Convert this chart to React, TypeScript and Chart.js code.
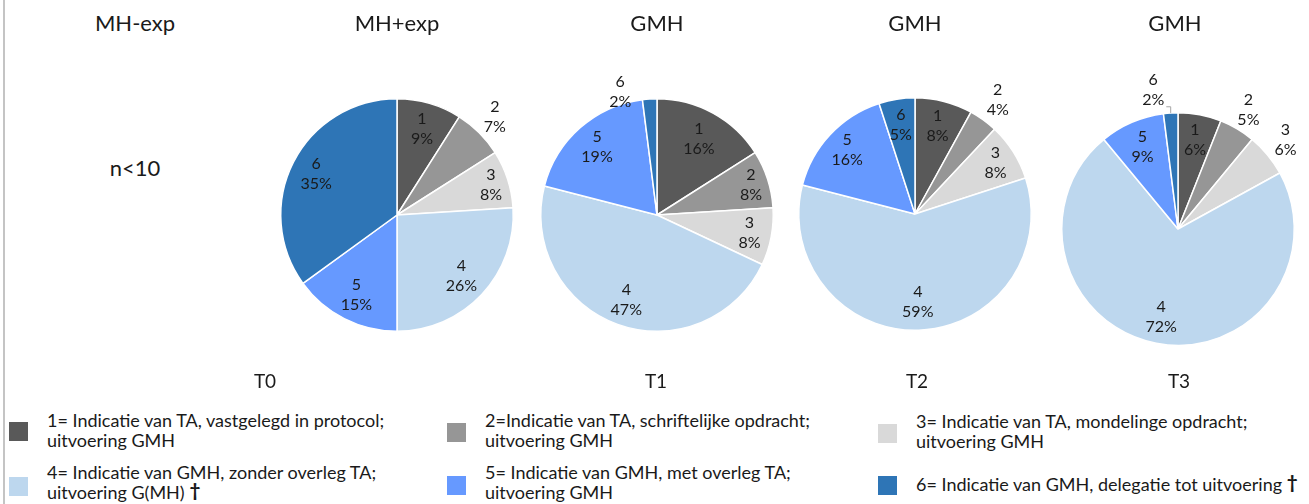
import React, { useEffect, useRef } from "react";
import { Chart, registerables } from "chart.js";

Chart.register(...registerables);

// ---------- data ----------
const CATEGORIES = ["1", "2", "3", "4", "5", "6"];
const T0_VALUES = [9, 7, 8, 26, 15, 35];
const T1_VALUES = [16, 8, 8, 47, 19, 2];
const T2_VALUES = [8, 4, 8, 59, 16, 5];
const T3_VALUES = [6, 5, 6, 72, 9, 2];
const PERIOD_LABELS = ["T0", "T1", "T2", "T3"];
const GROUP_LABELS = ["MH+exp", "GMH", "GMH", "GMH"];
const ROW_LABEL = "MH-exp";
const N_LABEL = "n<10";
const LEGEND_LABELS = [
  ["1= Indicatie van TA, vastgelegd in protocol;", "uitvoering GMH"],
  ["2=Indicatie van TA, schriftelijke opdracht;", "uitvoering GMH"],
  ["3= Indicatie van TA, mondelinge opdracht;", "uitvoering GMH"],
  ["4= Indicatie van GMH, zonder overleg TA;", "uitvoering G(MH)"],
  ["5= Indicatie van GMH, met overleg TA;", "uitvoering GMH"],
  ["6= Indicatie van GMH, delegatie tot uitvoering"],
];
const LEGEND_DAGGER = [false, false, false, true, false, true];

// ---------- styles / layout ----------
const COLORS = ["#595959", "#969696", "#D9D9D9", "#BDD7EE", "#6699FF", "#2E75B6"];
const FONT = "Lato, 'Open Sans', sans-serif";
const TEXT_COLOR = "#1a1a1a";
const PIE_CENTERS = [
  { cx: 397, cy: 215 },
  { cx: 657, cy: 215 },
  { cx: 915, cy: 214 },
  { cx: 1178, cy: 229 },
];
const CANVAS_HALF = 180;
const PAD = 63;

type Placement = { r: number; dx?: number; dy?: number; leader?: boolean };
const LABEL_PLACEMENT: Placement[][] = [
  [{ r: 0.77 }, { r: 1.19 }, { r: 0.85 }, { r: 0.76 }, { r: 0.77 }, { r: 0.78 }],
  [{ r: 0.75 }, { r: 0.85 }, { r: 0.81 }, { r: 0.78 }, { r: 0.78 }, { r: 1.2, dx: -28, dy: 16 }],
  [{ r: 0.78 }, { r: 1.21 }, { r: 0.82 }, { r: 0.76 }, { r: 0.8 }, { r: 0.78 }],
  [{ r: 0.78 }, { r: 1.19 }, { r: 1.2 }, { r: 0.77 }, { r: 0.77 }, { r: 1.2, dx: -16, dy: 0, leader: true }],
];
const SERIES = [T0_VALUES, T1_VALUES, T2_VALUES, T3_VALUES];

function PieChart({ values, cx, cy, placements }: { values: number[]; cx: number; cy: number; placements: Placement[] }) {
  const ref = useRef<HTMLCanvasElement>(null);
  useEffect(() => {
    if (!ref.current) return;
    const labelPlugin = {
      id: "sliceLabels",
      afterDatasetsDraw(chart: any) {
        const ctx = chart.ctx as CanvasRenderingContext2D;
        const meta = chart.getDatasetMeta(0);
        const total = values.reduce((a, b) => a + b, 0);
        ctx.save();
        ctx.font = `16px ${FONT}`;
        ctx.fillStyle = TEXT_COLOR;
        ctx.textAlign = "center";
        ctx.textBaseline = "middle";
        meta.data.forEach((arc: any, i: number) => {
          const { x, y, startAngle, endAngle, outerRadius } = arc.getProps(
            ["x", "y", "startAngle", "endAngle", "outerRadius"],
            true
          );
          const mid = (startAngle + endAngle) / 2;
          const p = placements[i];
          const lx = x + Math.cos(mid) * outerRadius * p.r + (p.dx || 0);
          const ly = y + Math.sin(mid) * outerRadius * p.r + (p.dy || 0);
          const pct = Math.round((values[i] / total) * 100) + "%";
          ctx.fillText(CATEGORIES[i], lx, ly - 10);
          ctx.fillText(pct, lx, ly + 10);
          if (p.leader) {
            const w = ctx.measureText(pct).width;
            const ax = x + Math.cos(mid) * outerRadius;
            const ay = y + Math.sin(mid) * outerRadius;
            const sx = lx + w / 2 + 2;
            const sy = ly + 17;
            ctx.strokeStyle = "#a6a6a6";
            ctx.lineWidth = 1;
            ctx.beginPath();
            ctx.moveTo(sx, sy);
            ctx.lineTo(ax, sy);
            ctx.lineTo(ax, ay);
            ctx.stroke();
          }
        });
        ctx.restore();
      },
    };
    const chart = new Chart(ref.current, {
      type: "pie",
      data: {
        labels: CATEGORIES,
        datasets: [
          {
            data: values,
            backgroundColor: COLORS,
            borderColor: "#ffffff",
            borderWidth: 1.5,
            hoverOffset: 0,
          },
        ],
      },
      options: {
        animation: false,
        responsive: false,
        events: [],
        layout: { padding: PAD },
        plugins: { legend: { display: false }, tooltip: { enabled: false } },
      },
      plugins: [labelPlugin],
    });
    return () => chart.destroy();
  }, []);
  return (
    <canvas
      ref={ref}
      width={CANVAS_HALF * 2}
      height={CANVAS_HALF * 2}
      style={{
        position: "absolute",
        left: cx - CANVAS_HALF,
        top: cy - CANVAS_HALF,
        width: CANVAS_HALF * 2,
        height: CANVAS_HALF * 2,
      }}
    />
  );
}

function Txt({ x, baseline, size, children, align = "center" }: any) {
  const lh = size * 1.2;
  return (
    <div
      style={{
        position: "absolute",
        left: x,
        top: baseline - 0.987 * size,
        transform: align === "center" ? "translateX(-50%)" : undefined,
        fontSize: size,
        lineHeight: `${lh}px`,
        fontFamily: FONT,
        color: TEXT_COLOR,
        whiteSpace: "nowrap",
      }}
    >
      {children}
    </div>
  );
}

const LEGEND_POS = [
  { sx: 9, tx: 47, top: 422, base: 427 },
  { sx: 447, tx: 485, top: 423, base: 427 },
  { sx: 878, tx: 916, top: 424, base: 428 },
  { sx: 9, tx: 47, top: 477, base: 479 },
  { sx: 447, tx: 485, top: 476, base: 479 },
  { sx: 878, tx: 916, top: 476, base: 491 },
];
const PERIOD_X = [265, 656, 917, 1179];

export default function App() {
  return (
    <div
      style={{
        position: "absolute",
        left: 0,
        top: 0,
        width: 1309,
        height: 504,
        overflow: "hidden",
        background: "#ffffff",
      }}
    >
      <div style={{ position: "absolute", left: 3, top: 0, width: 2, height: 504, background: "#c4c4c4" }} />
      {SERIES.map((v, i) => (
        <PieChart key={i} values={v} cx={PIE_CENTERS[i].cx} cy={PIE_CENTERS[i].cy} placements={LABEL_PLACEMENT[i]} />
      ))}
      <Txt x={135} baseline={32} size={22}>{ROW_LABEL}</Txt>
      {GROUP_LABELS.map((g, i) => (
        <Txt key={"g" + i} x={[397, 657, 915, 1175][i]} baseline={32} size={22}>
          {g}
        </Txt>
      ))}
      <Txt x={135} baseline={177} size={22}>{N_LABEL}</Txt>
      {PERIOD_LABELS.map((p, i) => (
        <Txt key={"p" + i} x={PERIOD_X[i]} baseline={389} size={19}>
          {p}
        </Txt>
      ))}
      {LEGEND_LABELS.map((lines, i) => {
        const pos = LEGEND_POS[i];
        return (
          <React.Fragment key={"l" + i}>
            <div
              style={{
                position: "absolute",
                left: pos.sx,
                top: pos.top,
                width: 19,
                height: 19,
                background: COLORS[i],
              }}
            />
            <div
              style={{
                position: "absolute",
                left: pos.tx,
                top: pos.base - 17,
                fontSize: 18,
                lineHeight: "20px",
                fontFamily: FONT,
                color: TEXT_COLOR,
                whiteSpace: "nowrap",
              }}
            >
              {lines.map((ln, j) => (
                <div key={j}>
                  {ln}
                  {LEGEND_DAGGER[i] && j === lines.length - 1 ? (
                    <span style={{ marginLeft: 5, fontWeight: 900, position: "relative", top: -2 }}>†</span>
                  ) : null}
                </div>
              ))}
            </div>
          </React.Fragment>
        );
      })}
    </div>
  );
}
